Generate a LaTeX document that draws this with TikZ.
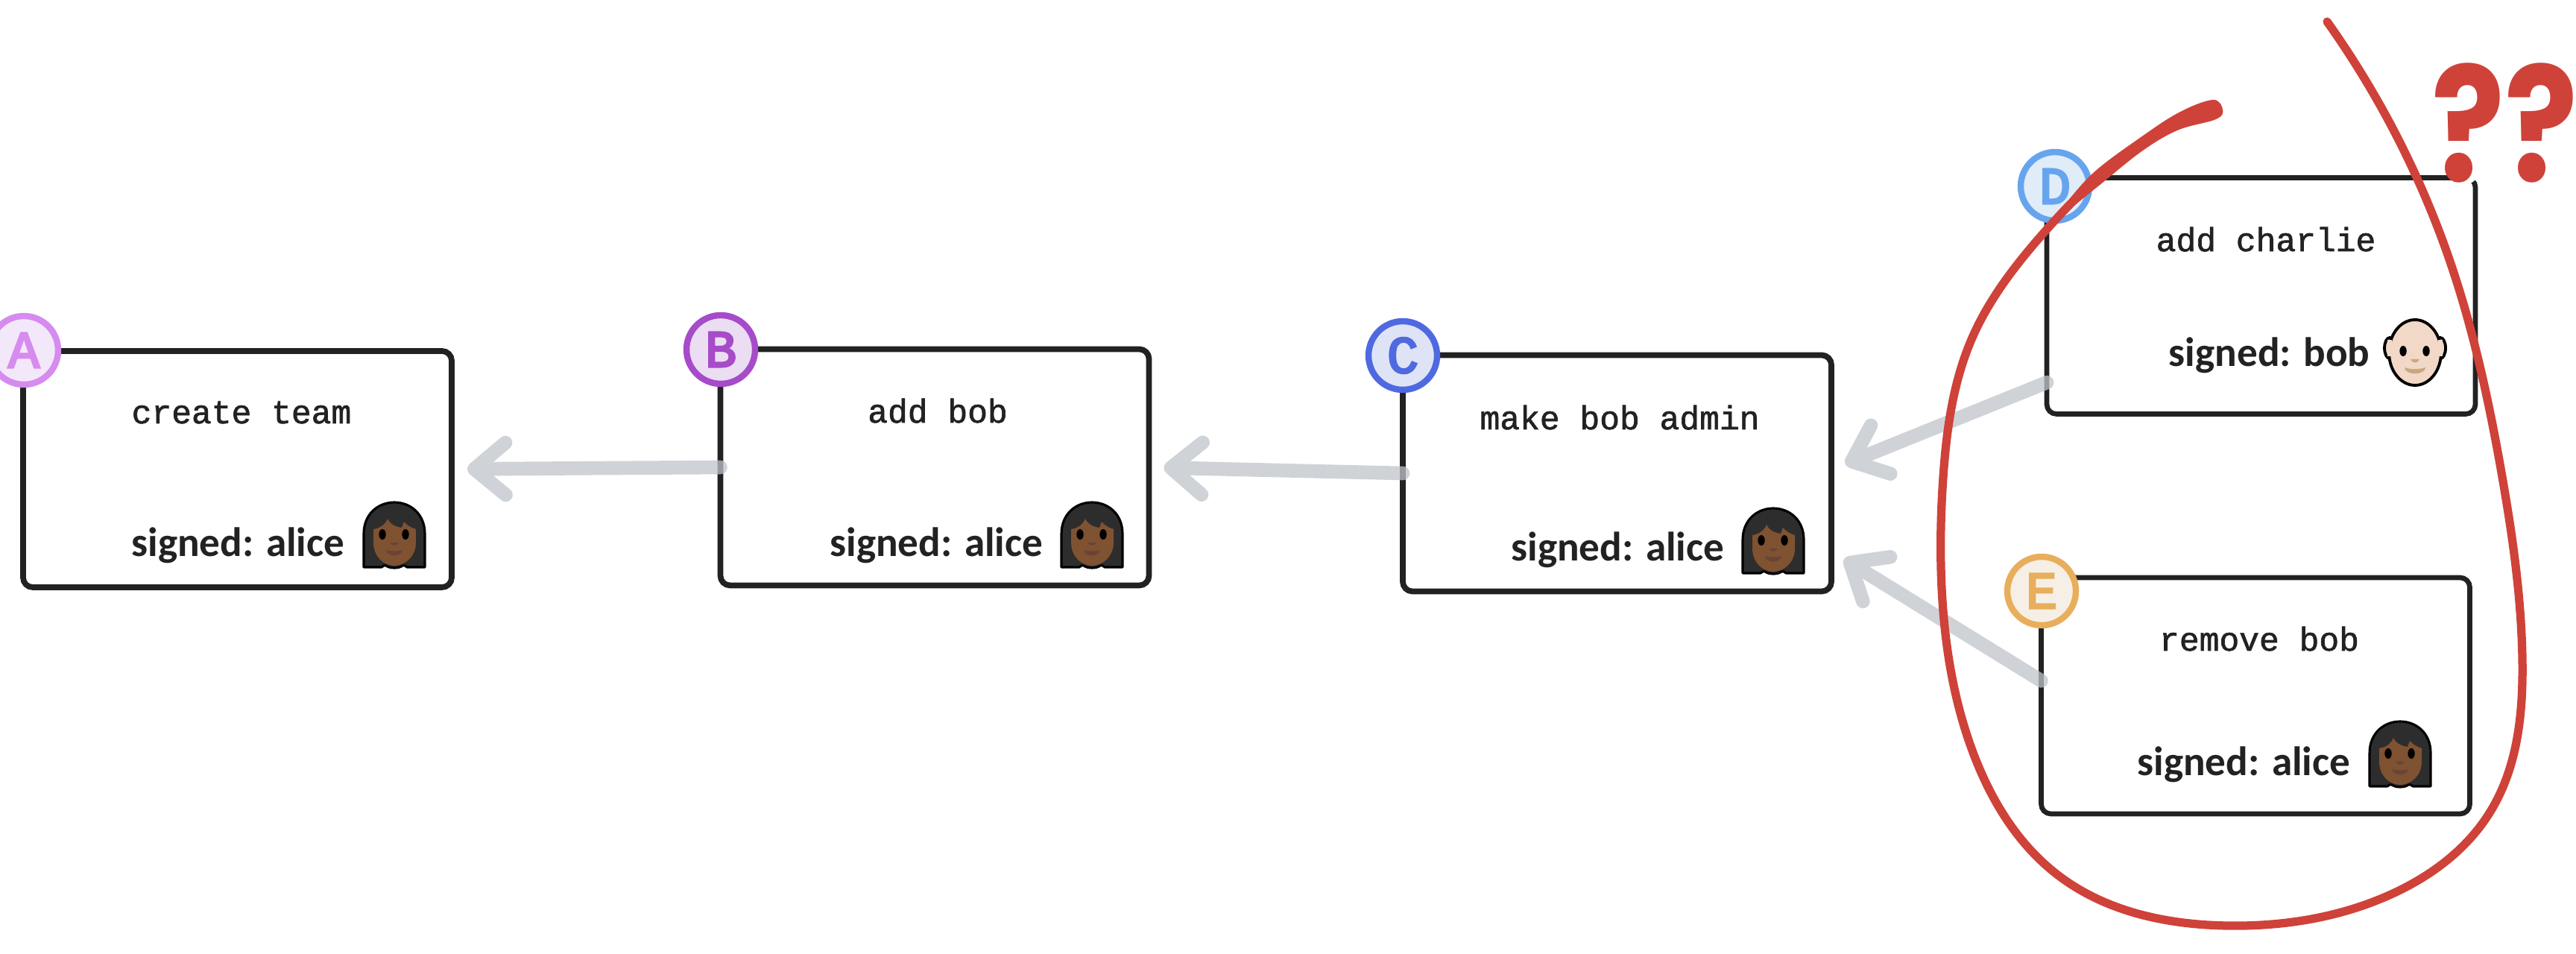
\documentclass[tikz,border=0pt]{standalone}
\usepackage{fontspec}
\usetikzlibrary{arrows.meta,hobby}
\newfontfamily\monofont[FakeBold=1.5]{Liberation Mono}
\newfontfamily\signfont[BoldFont={* Bold}]{Carlito}
\newfontfamily\markfont[FakeBold=4]{Liberation Mono}
\newfontfamily\askfont[BoldFont={* Bold}]{Poppins}
\definecolor{inkblack}{HTML}{222222}
\definecolor{redpen}{HTML}{CF4239}
\definecolor{arrowgrey}{HTML}{BFC4CB}
\definecolor{hairgrey}{HTML}{2D2D2D}
\definecolor{aliceskin}{HTML}{7F5232}
\definecolor{alicelip}{HTML}{6B4336}
\definecolor{bobskin}{HTML}{F2D8C6}
\definecolor{boblip}{HTML}{C9A77F}
\definecolor{markA}{HTML}{D68BEE}
\definecolor{fillA}{HTML}{F3E8FA}
\definecolor{markB}{HTML}{A64BC9}
\definecolor{fillB}{HTML}{EBDDF2}
\definecolor{markC}{HTML}{4F69E0}
\definecolor{fillC}{HTML}{DFE3F6}
\definecolor{markD}{HTML}{66A5EE}
\definecolor{fillD}{HTML}{E1ECF9}
\definecolor{markE}{HTML}{E8AE5C}
\definecolor{fillE}{HTML}{F6EFE6}
\tikzset{
	opbox/.style={draw=inkblack, fill=white, line width=2.2pt, rounded corners=0.13cm, minimum width=5.75cm, minimum height=3.17cm, outer sep=0pt},
	opmark/.style={circle, draw=#1, text=#1, line width=2.4pt, minimum size=0.92cm, inner sep=0pt, outer sep=0pt, font=\markfont\fontsize{20}{20}\selectfont},
	optitle/.style={anchor=base, text=inkblack, inner sep=0pt, font=\monofont\fontsize{12.7}{12.7}\selectfont},
	opsign/.style={anchor=base east, text=inkblack, inner sep=0pt, font=\signfont\bfseries\fontsize{15.7}{15.7}\selectfont},
	opflow/.style={draw=arrowgrey, line width=5.3pt, line cap=round, -{Straight Barb[length=0.42cm, width=0.7cm, round]}, shorten >=#1},
	redline/.style={draw=redpen, line cap=round, line join=round}
}
% alice, drawn around her centre
\newcommand{\alicehead}[1]{
	\begin{scope}[shift={(#1)}, x=0.01cm, y=0.01cm]
		\draw[fill=hairgrey, draw=black, line width=0.9pt, line join=round] (-41,-43) -- (-41,2) .. controls (-41,28) and (-22,44) .. (0,44) .. controls (22,44) and (41,28) .. (41,2) -- (41,-43) -- (17,-43) .. controls (15,-41) and (13,-40) .. (11,-41) .. controls (6,-45) and (-6,-45) .. (-11,-41) .. controls (-13,-40) and (-15,-41) .. (-17,-43) -- cycle;
		\fill[aliceskin] (-28,8) .. controls (-20,9) and (-12,14) .. (-9,22) .. controls (-6,15) and (2,11) .. (10,10) -- (13,18) .. controls (17,13) and (23,10) .. (29,8) -- (29,-10) .. controls (29,-28) and (15,-41) .. (0,-41) .. controls (-15,-41) and (-28,-28) .. (-28,-10) -- cycle;
		\fill[black] (-16,1) ellipse (4.7 and 7);
		\fill[black] (15,1) ellipse (4.7 and 7);
		\fill[alicelip] (-6,-10) -- (6,-10) .. controls (4,-15) and (-4,-15) .. (-6,-10) -- cycle;
		\fill[alicelip] (-11,-20) .. controls (-5,-22) and (5,-22) .. (11,-20) .. controls (10,-30) and (-10,-30) .. (-11,-20) -- cycle;
	\end{scope}
}
% bob, drawn around his centre
\newcommand{\bobhead}[1]{
	\begin{scope}[shift={(#1)}, x=0.01cm, y=0.01cm]
		\draw[fill=bobskin, draw=black, line width=1.1pt] (-34,6) ellipse (7 and 14);
		\draw[fill=bobskin, draw=black, line width=1.1pt] (34,6) ellipse (7 and 14);
		\draw[fill=bobskin, draw=black, line width=1.1pt] (0,0) ellipse (35 and 44);
		\fill[bobskin] (-37,-5) rectangle (-31,17);
		\fill[bobskin] (31,-5) rectangle (37,17);
		\fill[black] (-16,2) ellipse (4.7 and 7);
		\fill[black] (15,2) ellipse (4.7 and 7);
		\fill[boblip] (-6,-9) -- (6,-9) .. controls (4,-15) and (-4,-15) .. (-6,-9) -- cycle;
		\fill[boblip] (-14,-20) .. controls (-6,-23) and (6,-23) .. (14,-20) .. controls (14,-31) and (-14,-31) .. (-14,-20) -- cycle;
	\end{scope}
}

\begin{document}
\begin{tikzpicture}
	\useasboundingbox (0, 0) rectangle (34.56, 12.79);
	
	%%% boxes
	\node[opbox] (boxA) at (3.185, 6.495) {};
	\node[opbox] (boxB) at (12.54, 6.52) {};
	\node[opbox] (boxC) at (21.695, 6.44) {};
	\node[opbox, line width=1.9pt] (boxD) at (30.335, 8.82) {};
	\node[opbox, line width=1.9pt] (boxE) at (30.26, 3.455) {};
	
	%%% arrows
	\begin{scope}[transparency group, opacity=0.75]
		\draw[opflow=0.21cm] (boxB.west) -- (boxA.east);
		\draw[opflow=0.2cm] (boxC.west) -- (boxB.east);
		\draw[opflow=0.2cm] (boxD.202) -- (boxC.1);
		\draw[opflow=0.2cm] (boxE.176) -- (boxC.-20);
	\end{scope}
	
	%%% letters
	\node[opmark=markA, fill=fillA] (markAnode) at (0.32, 8.09) {A};
	\node[opmark=markB, fill=fillB] (markBnode) at (9.67, 8.10) {B};
	\node[opmark=markC, fill=fillC] (markCnode) at (18.82, 8.02) {C};
	\node[opmark=markD, fill=fillD] (markDnode) at (27.57, 10.29) {D};
	\node[opmark=markE, fill=fillE] (markEnode) at (27.39, 4.86) {E};
	
	%%% titles
	\node[optitle] (titleA) at (3.24, 7.11) {create team};
	\node[optitle] (titleB) at (12.58, 7.12) {add bob};
	\node[optitle] (titleC) at (21.73, 7.03) {make bob admin};
	\node[optitle] (titleD) at (30.40, 9.42) {add charlie};
	\node[optitle] (titleE) at (30.31, 4.06) {remove bob};
	
	%%% signatures
	\node[opsign] (signA) at (4.63, 5.32) {signed: alice};
	\node[opsign] (signB) at (14.00, 5.32) {signed: alice};
	\node[opsign] (signC) at (23.14, 5.26) {signed: alice};
	\node[opsign] (signD) at (31.80, 7.87) {signed: bob};
	\node[opsign] (signE) at (31.54, 2.38) {signed: alice};
	
	\alicehead{5.29, 5.61}
	\alicehead{14.65, 5.61}
	\alicehead{23.79, 5.53}
	\bobhead{32.40, 8.06}
	\alicehead{32.20, 2.67}
	
	%%% red pen
	\draw[redline, line width=3.2pt, use Hobby shortcut] (29.71,11.32) .. (28.75,10.87) .. (27.44,9.69) .. (26.46,8.26) .. (26.07,6.39) .. (26.04,5.17) .. (26.46,2.72) .. (27.62,1.04) .. (29.88,0.37) .. (32.01,0.76) .. (33.41,1.90) .. (33.84,3.94) .. (33.57,6.39) .. (32.87,9.28) .. (31.22,12.50);
	\fill[redpen] plot[smooth cycle, tension=0.6] coordinates {(29.69,11.45) (29.27,11.30) (28.78,10.99) (28.05,10.44) (27.6,9.87) (28.11,10.26) (28.72,10.75) (29.21,11.04) (29.73,11.19) (29.82,11.32)};
	
	\fill[white] (33.05, 10.53) circle (0.22);
	\node[anchor=base west, inner sep=0pt, xscale=0.85, text=redpen, font=\askfont\bfseries\fontsize{61}{61}\selectfont] (askmarks) at (32.62, 10.35) {??};
\end{tikzpicture}
\end{document}
